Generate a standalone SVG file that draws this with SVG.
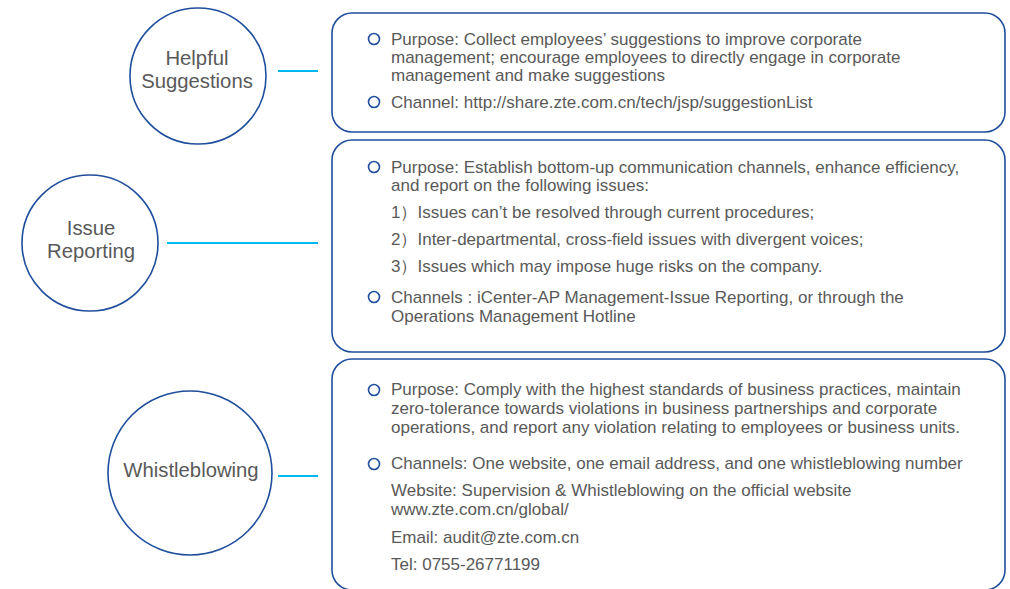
<svg xmlns="http://www.w3.org/2000/svg" width="1010" height="589" viewBox="0 0 1010 589">
<style>
.c{fill:#fff;stroke:#1f4e9c;stroke-width:1.6}
.b{fill:#fff;stroke:#1f4e9c;stroke-width:1.6}
.bul{fill:none;stroke:#1f4e9c;stroke-width:1.6}
.ct{font-family:"Liberation Sans",Arial,sans-serif;font-size:20.3px;fill:#595959;text-anchor:middle}
.t{font-family:"Liberation Sans",Arial,sans-serif;font-size:17px;fill:#595959}
.ln{stroke:#00b8f0;stroke-width:2}
</style>
<rect width="1010" height="589" fill="#fff"/>
<g id="connectors">
<line class="ln" x1="278" y1="71" x2="318" y2="71"/>
<line class="ln" x1="167" y1="243" x2="318" y2="243"/>
<line class="ln" x1="278" y1="476" x2="318" y2="476"/>
</g>
<g id="node-helpful">
<circle class="c" cx="198" cy="76" r="68"/>
<text class="ct" x="197" y="65">Helpful</text>
<text class="ct" x="197" y="88">Suggestions</text>
</g>
<g id="node-issue">
<circle class="c" cx="90" cy="243" r="68"/>
<text class="ct" x="91" y="235">Issue</text>
<text class="ct" x="91" y="258">Reporting</text>
</g>
<g id="node-whistle">
<circle class="c" cx="190" cy="473" r="82"/>
<text class="ct" x="191" y="477">Whistleblowing</text>
</g>
<g id="box-helpful">
<rect class="b" x="332" y="13" width="673" height="119" rx="20"/>
<circle class="bul" cx="374" cy="39" r="5.5"/>
<text class="t" x="391" y="45">Purpose: Collect employees’ suggestions to improve corporate</text>
<text class="t" x="391" y="63">management; encourage employees to directly engage in corporate</text>
<text class="t" x="391" y="81">management and make suggestions</text>
<circle class="bul" cx="374" cy="102" r="5.5"/>
<text class="t" x="391" y="107.5">Channel: http://share.zte.com.cn/tech/jsp/suggestionList</text>
</g>
<g id="box-issue">
<rect class="b" x="332" y="140" width="673" height="212" rx="20"/>
<circle class="bul" cx="374" cy="167" r="5.5"/>
<text class="t" x="391" y="173">Purpose: Establish bottom-up communication channels, enhance efficiency,</text>
<text class="t" x="391" y="191">and report on the following issues:</text>
<text class="t" x="391" y="218">1）Issues can’t be resolved through current procedures;</text>
<text class="t" x="391" y="245">2）Inter-departmental, cross-field issues with divergent voices;</text>
<text class="t" x="391" y="272">3）Issues which may impose huge risks on the company.</text>
<circle class="bul" cx="374" cy="297" r="5.5"/>
<text class="t" x="391" y="303">Channels : iCenter-AP Management-Issue Reporting, or through the</text>
<text class="t" x="391" y="322">Operations Management Hotline</text>
</g>
<g id="box-whistle">
<rect class="b" x="332" y="359" width="673" height="231" rx="20"/>
<circle class="bul" cx="374" cy="390" r="5.5"/>
<text class="t" x="391" y="394.5">Purpose: Comply with the highest standards of business practices, maintain</text>
<text class="t" x="391" y="413.5">zero-tolerance towards violations in business partnerships and corporate</text>
<text class="t" x="391" y="432.5">operations, and report any violation relating to employees or business units.</text>
<circle class="bul" cx="374" cy="464" r="5.5"/>
<text class="t" x="391" y="468.5">Channels: One website, one email address, and one whistleblowing number</text>
<text class="t" x="391" y="496">Website: Supervision &amp; Whistleblowing on the official website</text>
<text class="t" x="391" y="515">www.zte.com.cn/global/</text>
<text class="t" x="391" y="543">Email: audit@zte.com.cn</text>
<text class="t" x="391" y="569.5">Tel: 0755-26771199</text>
</g>
</svg>
